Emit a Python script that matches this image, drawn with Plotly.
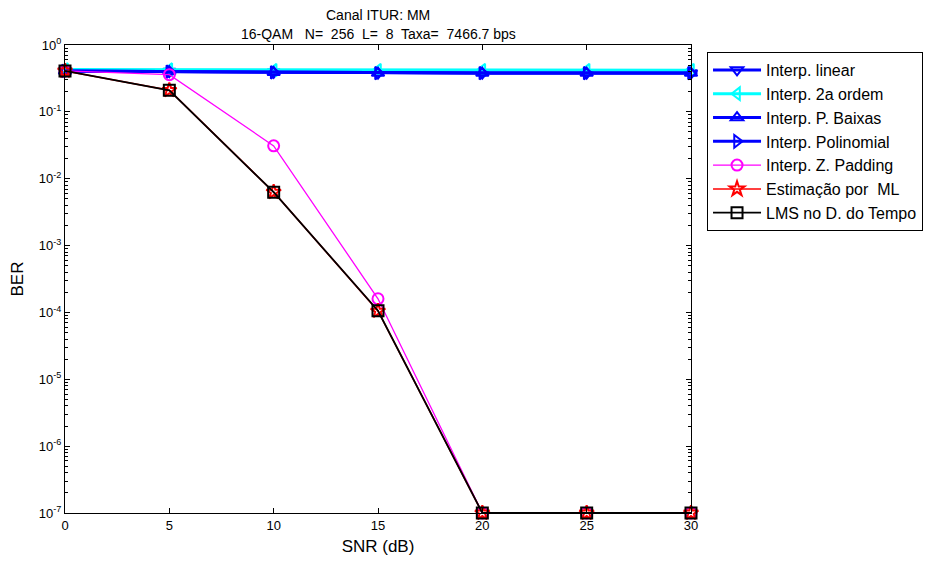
import plotly.graph_objects as go

snr = [0, 5, 10, 15, 20, 25, 30]

ber_linear = [0.41, 0.40, 0.39, 0.38, 0.38, 0.38, 0.38]
ber_2aordem = [0.43, 0.43, 0.42, 0.42, 0.42, 0.42, 0.42]
ber_pbaixas = [0.41, 0.40, 0.39, 0.38, 0.38, 0.38, 0.38]
ber_polinomial = [0.41, 0.40, 0.39, 0.38, 0.38, 0.38, 0.38]
ber_zpadding = [0.41, 0.36, 0.031, 1.6e-4, 1e-7, 1e-7, 1e-7]
ber_ml = [0.41, 0.21, 6.3e-3, 1.05e-4, 1e-7, 1e-7, 1e-7]
ber_lms = [0.41, 0.21, 6.3e-3, 1.06e-4, 1e-7, 1e-7, 1e-7]

ytick_vals = [1e-7, 1e-6, 1e-5, 1e-4, 1e-3, 1e-2, 1e-1, 1]
ytick_text = ["10<sup>-7</sup>", "10<sup>-6</sup>", "10<sup>-5</sup>", "10<sup>-4</sup>",
              "10<sup>-3</sup>", "10<sup>-2</sup>", "10<sup>-1</sup>", "10<sup>0</sup>"]

title_lines = ["Canal ITUR: MM", "16-QAM   N=  256  L=  8  Taxa=  7466.7 bps"]

series = [
    ("Interp. linear", ber_linear, "#0000FF", "triangle-down-open", 3),
    ("Interp. 2a ordem", ber_2aordem, "#00FFFF", "triangle-left-open", 3),
    ("Interp. P. Baixas", ber_pbaixas, "#0000FF", "triangle-up-open", 3),
    ("Interp. Polinomial", ber_polinomial, "#0000FF", "triangle-right-open", 3),
    ("Interp. Z. Padding", ber_zpadding, "#FF00FF", "circle-open", 1.3),
    ("Estimação por  ML", ber_ml, "#FF0000", "star-open", 1.5),
    ("LMS no D. do Tempo", ber_lms, "#000000", "square-open", 1.8),
]

fig = go.Figure()
for name, y, color, sym, lw in series:
    fig.add_trace(go.Scatter(
        x=snr, y=y, name=name, mode="lines+markers",
        line=dict(color=color, width=lw),
        marker=dict(symbol=sym, size=11, color=color, line=dict(width=2, color=color)),
        cliponaxis=False,
    ))

font = dict(family="Liberation Sans, Arial, sans-serif", color="#000000")

fig.update_layout(
    width=940, height=561,
    margin=dict(l=57, r=257, t=37, b=56, autoexpand=False),
    paper_bgcolor="white", plot_bgcolor="white",
    font=dict(size=13, **font),
    showlegend=True,
    legend=dict(
        x=1.0256, y=0.985, xanchor="left", yanchor="top",
        bordercolor="#000000", borderwidth=1, bgcolor="white",
        font=dict(size=16, **font), tracegroupgap=0,
        itemwidth=48,
    ),
    annotations=[
        dict(text=title_lines[0], xref="paper", yref="paper", x=313 / 626, y=1,
             yshift=30, xanchor="center", yanchor="middle", showarrow=False,
             font=dict(size=14, **font)),
        dict(text=title_lines[1], xref="paper", yref="paper", x=313 / 626, y=1,
             yshift=11, xanchor="center", yanchor="middle", showarrow=False,
             font=dict(size=14, **font)),
    ],
)

fig.update_xaxes(
    range=[0, 30], dtick=5, tick0=0, automargin=False,
    showline=True, linecolor="#000000", linewidth=1, mirror="allticks",
    ticks="inside", ticklen=5, tickcolor="#000000",
    showgrid=False, zeroline=False,
    title=dict(text="SNR (dB)", font=dict(size=17, **font), standoff=8),
    tickfont=dict(size=13, **font),
)
fig.update_yaxes(
    type="log", range=[-7, 0], automargin=False,
    tickvals=ytick_vals, ticktext=ytick_text,
    showline=True, linecolor="#000000", linewidth=1, mirror="allticks",
    ticks="inside", ticklen=5, tickcolor="#000000",
    minor=dict(ticks="inside", ticklen=3, tickcolor="#000000", showgrid=False,
               tickvals=[m * 10 ** e for e in range(-7, 0) for m in range(2, 10)]),
    showgrid=False, zeroline=False,
    title=dict(text="BER", font=dict(size=17, **font), standoff=12),
    tickfont=dict(size=13, **font),
)

fig.write_html("out.html")
